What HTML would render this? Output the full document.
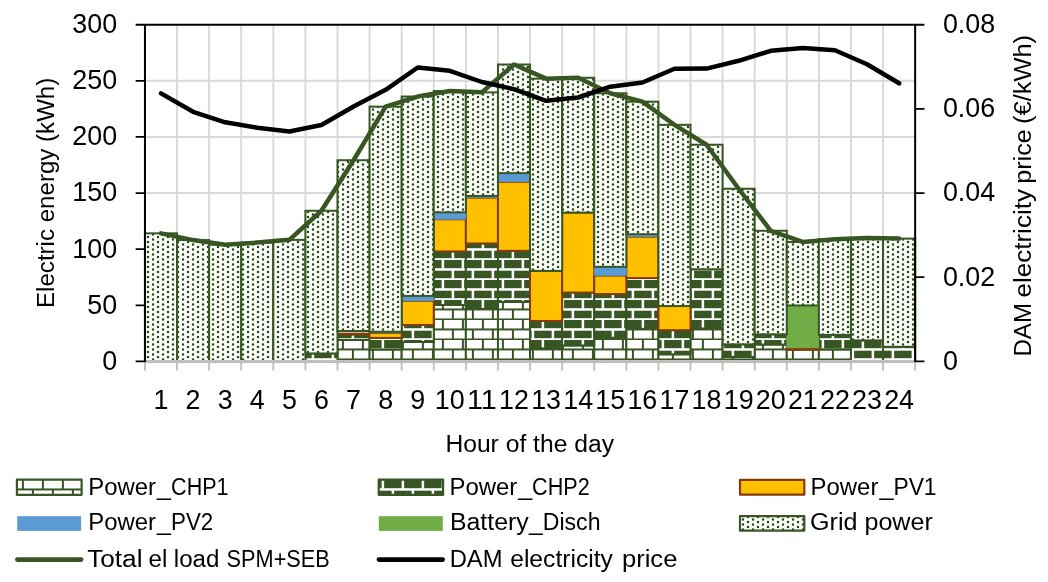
<!DOCTYPE html>
<html lang="en"><head><meta charset="utf-8"><title>Electric energy and DAM electricity price per hour of the day</title>
<style>html,body{margin:0;padding:0;background:#fff;}svg{display:block;}text{font-family:"Liberation Sans",sans-serif;fill:#000;}</style></head><body>
<svg width="1048" height="582" viewBox="0 0 1048 582">
<defs>
<pattern id="dots" patternUnits="userSpaceOnUse" x="0" y="0" width="10" height="5"><rect width="10" height="5" fill="#fff"/><rect x="6.9" y="0.9" width="2.2" height="2.2" fill="#1f4a05"/><rect x="1.9" y="3.4" width="2.2" height="2.2" fill="#1f4a05"/><rect x="1.9" y="-1.6" width="2.2" height="2.2" fill="#1f4a05"/></pattern>
<pattern id="b1" patternUnits="userSpaceOnUse" x="0" y="0" width="20" height="20"><rect width="20" height="20" fill="#fff"/><rect x="0" y="8.45" width="20" height="2.0" fill="#375623"/><rect x="0" y="18.45" width="20" height="2.0" fill="#375623"/><rect x="1.90" y="-1" width="2.0" height="10.3" fill="#375623"/><rect x="1.90" y="19.3" width="2.0" height="1" fill="#375623"/><rect x="11.90" y="9.3" width="2.0" height="10" fill="#375623"/></pattern>
<pattern id="b2" patternUnits="userSpaceOnUse" x="0" y="0" width="20" height="20"><rect width="20" height="20" fill="#375623"/><rect x="0" y="8.20" width="20" height="2.5" fill="#fff"/><rect x="0" y="18.20" width="20" height="2.5" fill="#fff"/><rect x="1.65" y="-1" width="2.5" height="10.3" fill="#fff"/><rect x="1.65" y="19.3" width="2.5" height="1" fill="#fff"/><rect x="11.65" y="9.3" width="2.5" height="10" fill="#fff"/></pattern>
</defs>
<rect width="1048" height="582" fill="#fff"/>
<path d="M177.04 24.70V361.40M209.13 24.70V361.40M241.22 24.70V361.40M273.32 24.70V361.40M305.41 24.70V361.40M337.50 24.70V361.40M369.59 24.70V361.40M401.68 24.70V361.40M433.78 24.70V361.40M465.87 24.70V361.40M497.96 24.70V361.40M530.05 24.70V361.40M562.14 24.70V361.40M594.23 24.70V361.40M626.33 24.70V361.40M658.42 24.70V361.40M690.51 24.70V361.40M722.60 24.70V361.40M754.69 24.70V361.40M786.78 24.70V361.40M818.88 24.70V361.40M850.97 24.70V361.40M883.06 24.70V361.40M144.95 305.28H915.15M144.95 249.17H915.15M144.95 193.05H915.15M144.95 136.93H915.15M144.95 80.82H915.15" stroke="#d9d9d9" stroke-width="1.9" fill="none"/>
<g fill="url(#b1)" stroke="#375623" stroke-width="2.0"><rect x="337.50" y="339.94" width="32.09" height="21.46"/><rect x="369.59" y="349.38" width="32.09" height="12.02"/><rect x="401.68" y="341.97" width="32.09" height="19.43"/><rect x="433.78" y="305.01" width="32.09" height="56.39"/><rect x="465.87" y="308.94" width="32.09" height="52.46"/><rect x="497.96" y="301.87" width="32.09" height="59.53"/><rect x="530.05" y="348.37" width="32.09" height="13.03"/><rect x="562.14" y="345.45" width="32.09" height="15.95"/><rect x="594.23" y="337.70" width="32.09" height="23.70"/><rect x="626.33" y="328.82" width="32.09" height="32.58"/><rect x="658.42" y="354.32" width="32.09" height="7.08"/><rect x="690.51" y="328.49" width="32.09" height="32.91"/><rect x="722.60" y="356.91" width="32.09" height="4.49"/><rect x="754.69" y="344.55" width="32.09" height="16.85"/><rect x="786.78" y="349.61" width="32.09" height="11.79"/><rect x="818.88" y="349.27" width="32.09" height="12.13"/></g><g fill="url(#b2)" stroke="#375623" stroke-width="2.0"><rect x="305.41" y="353.42" width="32.09" height="7.98"/><rect x="337.50" y="334.44" width="32.09" height="5.50"/><rect x="369.59" y="337.92" width="32.09" height="11.46"/><rect x="401.68" y="325.01" width="32.09" height="16.96"/><rect x="433.78" y="251.43" width="32.09" height="53.58"/><rect x="465.87" y="243.45" width="32.09" height="65.49"/><rect x="497.96" y="250.87" width="32.09" height="51.00"/><rect x="530.05" y="320.96" width="32.09" height="27.41"/><rect x="562.14" y="292.54" width="32.09" height="52.91"/><rect x="594.23" y="294.00" width="32.09" height="43.70"/><rect x="626.33" y="278.05" width="32.09" height="50.77"/><rect x="658.42" y="330.17" width="32.09" height="24.15"/><rect x="690.51" y="269.29" width="32.09" height="59.20"/><rect x="722.60" y="344.33" width="32.09" height="12.58"/><rect x="754.69" y="334.33" width="32.09" height="10.22"/><rect x="818.88" y="334.89" width="32.09" height="14.38"/><rect x="850.97" y="340.39" width="32.09" height="21.01"/><rect x="883.06" y="346.80" width="32.09" height="14.60"/></g><g fill="#ffc000" stroke="#843c0c" stroke-width="2.0"><rect x="337.50" y="333.65" width="32.09" height="0.79"/><rect x="369.59" y="332.87" width="32.09" height="5.05"/><rect x="401.68" y="300.85" width="32.09" height="24.15"/><rect x="433.78" y="219.30" width="32.09" height="32.13"/><rect x="465.87" y="197.62" width="32.09" height="45.83"/><rect x="497.96" y="181.78" width="32.09" height="69.08"/><rect x="530.05" y="270.86" width="32.09" height="50.10"/><rect x="562.14" y="212.56" width="32.09" height="79.98"/><rect x="594.23" y="275.58" width="32.09" height="18.42"/><rect x="626.33" y="236.71" width="32.09" height="41.34"/><rect x="658.42" y="306.02" width="32.09" height="24.15"/><rect x="786.78" y="347.92" width="32.09" height="1.68"/></g><g fill="#5b9bd5" stroke="#5b9bd5" stroke-width="0.5"><rect x="369.59" y="331.74" width="32.09" height="1.12"/><rect x="401.68" y="295.91" width="32.09" height="4.94"/><rect x="433.78" y="212.34" width="32.09" height="6.96"/><rect x="465.87" y="195.94" width="32.09" height="1.68"/><rect x="497.96" y="173.13" width="32.09" height="8.65"/><rect x="594.23" y="266.82" width="32.09" height="8.76"/><rect x="626.33" y="234.24" width="32.09" height="2.47"/></g><g fill="#70ad47" stroke="#70ad47" stroke-width="0.5"><rect x="786.78" y="305.46" width="32.09" height="42.46"/></g><g fill="url(#dots)" stroke="#375623" stroke-width="2.0"><rect x="144.95" y="233.34" width="32.09" height="128.06"/><rect x="177.04" y="240.08" width="32.09" height="121.32"/><rect x="209.13" y="244.69" width="32.09" height="116.71"/><rect x="241.22" y="242.55" width="32.09" height="118.85"/><rect x="273.32" y="239.86" width="32.09" height="121.54"/><rect x="305.41" y="210.77" width="32.09" height="142.66"/><rect x="337.50" y="160.22" width="32.09" height="170.79"/><rect x="369.59" y="106.64" width="32.09" height="225.11"/><rect x="401.68" y="96.53" width="32.09" height="199.39"/><rect x="433.78" y="91.02" width="32.09" height="121.32"/><rect x="465.87" y="92.37" width="32.09" height="103.57"/><rect x="497.96" y="64.51" width="32.09" height="108.62"/><rect x="530.05" y="78.67" width="32.09" height="192.20"/><rect x="562.14" y="77.77" width="32.09" height="134.80"/><rect x="594.23" y="93.27" width="32.09" height="173.55"/><rect x="626.33" y="101.69" width="32.09" height="132.55"/><rect x="658.42" y="124.83" width="32.09" height="181.19"/><rect x="690.51" y="144.72" width="32.09" height="124.57"/><rect x="722.60" y="188.75" width="32.09" height="155.58"/><rect x="754.69" y="230.76" width="32.09" height="103.57"/><rect x="786.78" y="241.99" width="32.09" height="63.47"/><rect x="818.88" y="239.18" width="32.09" height="95.71"/><rect x="850.97" y="237.95" width="32.09" height="102.44"/><rect x="883.06" y="238.62" width="32.09" height="108.17"/></g>
<path d="M144.95 361.30H915.15" stroke="#bfbfbf" stroke-width="2.4" fill="none"/>
<path d="M144.95 361.40V370.40M177.04 361.40V370.40M209.13 361.40V370.40M241.22 361.40V370.40M273.32 361.40V370.40M305.41 361.40V370.40M337.50 361.40V370.40M369.59 361.40V370.40M401.68 361.40V370.40M433.78 361.40V370.40M465.87 361.40V370.40M497.96 361.40V370.40M530.05 361.40V370.40M562.14 361.40V370.40M594.23 361.40V370.40M626.33 361.40V370.40M658.42 361.40V370.40M690.51 361.40V370.40M722.60 361.40V370.40M754.69 361.40V370.40M786.78 361.40V370.40M818.88 361.40V370.40M850.97 361.40V370.40M883.06 361.40V370.40M915.15 361.40V370.40" stroke="#bfbfbf" stroke-width="1.9" fill="none"/>
<path d="M144.95 362.00V24.70M135.65 24.70H924.45M915.15 24.70V362.00" stroke="#000" stroke-width="2" fill="none"/>
<path d="M135.65 361.40H144.95M135.65 305.28H144.95M135.65 249.17H144.95M135.65 193.05H144.95M135.65 136.93H144.95M135.65 80.82H144.95M915.15 361.40H924.45M915.15 277.22H924.45M915.15 193.05H924.45M915.15 108.88H924.45" stroke="#000" stroke-width="1.8" fill="none"/>
<polyline points="161.00,233.34 193.09,240.08 225.18,244.69 257.27,242.55 289.36,239.86 321.45,210.77 353.55,160.22 385.64,106.64 417.73,96.53 449.82,91.02 481.91,92.37 514.00,64.51 546.10,78.67 578.19,77.77 610.28,93.27 642.37,101.69 674.46,124.83 706.55,144.72 738.65,188.75 770.74,230.76 802.83,241.99 834.92,239.18 867.01,237.95 899.10,238.62" fill="none" stroke="#375623" stroke-width="4.5" stroke-linecap="round" stroke-linejoin="round"/>
<polyline points="161.00,93.40 193.09,111.80 225.18,122.30 257.27,127.70 289.36,131.50 321.45,125.00 353.55,106.50 385.64,89.80 417.73,67.50 449.82,70.80 481.91,82.00 514.00,89.20 546.10,100.80 578.19,97.50 610.28,86.70 642.37,82.50 674.46,68.80 706.55,68.60 738.65,60.80 770.74,50.80 802.83,48.00 834.92,50.30 867.01,64.20 899.10,83.30" fill="none" stroke="#000" stroke-width="4.5" stroke-linecap="round" stroke-linejoin="round"/>
<text x="117.20" y="369.80" font-size="27.0" text-anchor="end" textLength="14.95" lengthAdjust="spacingAndGlyphs">0</text>
<text x="117.20" y="313.68" font-size="27.0" text-anchor="end" textLength="29.90" lengthAdjust="spacingAndGlyphs">50</text>
<text x="117.20" y="257.57" font-size="27.0" text-anchor="end" textLength="44.85" lengthAdjust="spacingAndGlyphs">100</text>
<text x="117.20" y="201.45" font-size="27.0" text-anchor="end" textLength="44.85" lengthAdjust="spacingAndGlyphs">150</text>
<text x="117.20" y="145.33" font-size="27.0" text-anchor="end" textLength="44.85" lengthAdjust="spacingAndGlyphs">200</text>
<text x="117.20" y="89.22" font-size="27.0" text-anchor="end" textLength="44.85" lengthAdjust="spacingAndGlyphs">250</text>
<text x="117.20" y="33.10" font-size="27.0" text-anchor="end" textLength="44.85" lengthAdjust="spacingAndGlyphs">300</text>
<text x="942.90" y="369.80" font-size="27.0" textLength="14.95" lengthAdjust="spacingAndGlyphs">0</text>
<text x="942.90" y="285.62" font-size="27.0" textLength="52.30" lengthAdjust="spacingAndGlyphs">0.02</text>
<text x="942.90" y="201.45" font-size="27.0" textLength="52.30" lengthAdjust="spacingAndGlyphs">0.04</text>
<text x="942.90" y="117.28" font-size="27.0" textLength="52.30" lengthAdjust="spacingAndGlyphs">0.06</text>
<text x="942.90" y="33.10" font-size="27.0" textLength="52.30" lengthAdjust="spacingAndGlyphs">0.08</text>
<text x="161.00" y="409.20" font-size="27.0" text-anchor="middle" textLength="14.95" lengthAdjust="spacingAndGlyphs">1</text>
<text x="193.09" y="409.20" font-size="27.0" text-anchor="middle" textLength="14.95" lengthAdjust="spacingAndGlyphs">2</text>
<text x="225.18" y="409.20" font-size="27.0" text-anchor="middle" textLength="14.95" lengthAdjust="spacingAndGlyphs">3</text>
<text x="257.27" y="409.20" font-size="27.0" text-anchor="middle" textLength="14.95" lengthAdjust="spacingAndGlyphs">4</text>
<text x="289.36" y="409.20" font-size="27.0" text-anchor="middle" textLength="14.95" lengthAdjust="spacingAndGlyphs">5</text>
<text x="321.45" y="409.20" font-size="27.0" text-anchor="middle" textLength="14.95" lengthAdjust="spacingAndGlyphs">6</text>
<text x="353.55" y="409.20" font-size="27.0" text-anchor="middle" textLength="14.95" lengthAdjust="spacingAndGlyphs">7</text>
<text x="385.64" y="409.20" font-size="27.0" text-anchor="middle" textLength="14.95" lengthAdjust="spacingAndGlyphs">8</text>
<text x="417.73" y="409.20" font-size="27.0" text-anchor="middle" textLength="14.95" lengthAdjust="spacingAndGlyphs">9</text>
<text x="449.82" y="409.20" font-size="27.0" text-anchor="middle" textLength="29.90" lengthAdjust="spacingAndGlyphs">10</text>
<text x="481.91" y="409.20" font-size="27.0" text-anchor="middle" textLength="29.90" lengthAdjust="spacingAndGlyphs">11</text>
<text x="514.00" y="409.20" font-size="27.0" text-anchor="middle" textLength="29.90" lengthAdjust="spacingAndGlyphs">12</text>
<text x="546.10" y="409.20" font-size="27.0" text-anchor="middle" textLength="29.90" lengthAdjust="spacingAndGlyphs">13</text>
<text x="578.19" y="409.20" font-size="27.0" text-anchor="middle" textLength="29.90" lengthAdjust="spacingAndGlyphs">14</text>
<text x="610.28" y="409.20" font-size="27.0" text-anchor="middle" textLength="29.90" lengthAdjust="spacingAndGlyphs">15</text>
<text x="642.37" y="409.20" font-size="27.0" text-anchor="middle" textLength="29.90" lengthAdjust="spacingAndGlyphs">16</text>
<text x="674.46" y="409.20" font-size="27.0" text-anchor="middle" textLength="29.90" lengthAdjust="spacingAndGlyphs">17</text>
<text x="706.55" y="409.20" font-size="27.0" text-anchor="middle" textLength="29.90" lengthAdjust="spacingAndGlyphs">18</text>
<text x="738.65" y="409.20" font-size="27.0" text-anchor="middle" textLength="29.90" lengthAdjust="spacingAndGlyphs">19</text>
<text x="770.74" y="409.20" font-size="27.0" text-anchor="middle" textLength="29.90" lengthAdjust="spacingAndGlyphs">20</text>
<text x="802.83" y="409.20" font-size="27.0" text-anchor="middle" textLength="29.90" lengthAdjust="spacingAndGlyphs">21</text>
<text x="834.92" y="409.20" font-size="27.0" text-anchor="middle" textLength="29.90" lengthAdjust="spacingAndGlyphs">22</text>
<text x="867.01" y="409.20" font-size="27.0" text-anchor="middle" textLength="29.90" lengthAdjust="spacingAndGlyphs">23</text>
<text x="899.10" y="409.20" font-size="27.0" text-anchor="middle" textLength="29.90" lengthAdjust="spacingAndGlyphs">24</text>
<text x="445.40" y="451.80" font-size="23.3" textLength="168.60" lengthAdjust="spacingAndGlyphs">Hour of the day</text>
<text transform="translate(54.4 306.2) rotate(-90)" x="-1.8" y="0" font-size="23.3" textLength="230.30" lengthAdjust="spacingAndGlyphs">Electric energy (kWh)</text>
<text transform="translate(1031.2 354.8) rotate(-90)" y="0.00" font-size="23.3" xml:space="preserve"><tspan x="-1.70" textLength="53.40" lengthAdjust="spacingAndGlyphs">DAM</tspan> <tspan x="57.20" textLength="108.60" lengthAdjust="spacingAndGlyphs">electricity</tspan> <tspan x="171.10" textLength="54.30" lengthAdjust="spacingAndGlyphs">price</tspan> <tspan x="230.90" textLength="89.00" lengthAdjust="spacingAndGlyphs">(€/kWh)</tspan></text>
<rect x="16.9" y="479.7" width="64.7" height="15.1" fill="url(#b1)" stroke="#375623" stroke-width="2.2" stroke-linejoin="round"/>
<rect x="378.7" y="479.7" width="64.4" height="15.1" fill="url(#b2)" stroke="#375623" stroke-width="2.2" stroke-linejoin="round"/>
<rect x="740" y="479.8" width="64.3" height="14.9" fill="#ffc000" stroke="#843c0c" stroke-width="2.2" stroke-linejoin="round"/>
<rect x="17.2" y="516.2" width="63.9" height="14.7" fill="#5b9bd5"/>
<rect x="378.8" y="516.2" width="64" height="14.7" fill="#70ad47"/>
<rect x="740" y="516.2" width="64.3" height="14.5" fill="url(#dots)" stroke="#375623" stroke-width="2.2" stroke-linejoin="round"/>
<path d="M17.3 559.6H81.2" stroke="#375623" stroke-width="4.6" stroke-linecap="round" fill="none"/>
<path d="M378.9 559.6H442.7" stroke="#000" stroke-width="4.6" stroke-linecap="round" fill="none"/>
<text x="810.10" y="530.40" font-size="23.3" textLength="122.70" lengthAdjust="spacingAndGlyphs">Grid power</text>
<text y="566.50" font-size="23.3" xml:space="preserve"><tspan x="87.20" textLength="55.30" lengthAdjust="spacingAndGlyphs">Total</tspan> <tspan x="148.50" textLength="18.80" lengthAdjust="spacingAndGlyphs">el</tspan> <tspan x="173.80" textLength="45.60" lengthAdjust="spacingAndGlyphs">load</tspan> <tspan x="226.60" textLength="103.20" lengthAdjust="spacingAndGlyphs">SPM+SEB</tspan></text>
<text y="566.50" font-size="23.3" xml:space="preserve"><tspan x="449.70" textLength="52.80" lengthAdjust="spacingAndGlyphs">DAM</tspan> <tspan x="510.20" textLength="102.70" lengthAdjust="spacingAndGlyphs">electricity</tspan> <tspan x="621.90" textLength="55.50" lengthAdjust="spacingAndGlyphs">price</tspan></text>
<text y="494.60" font-size="23.3"><tspan x="88.20" textLength="67.80" lengthAdjust="spacingAndGlyphs">Power</tspan><tspan x="157.00" textLength="13.90" lengthAdjust="spacingAndGlyphs">_</tspan><tspan x="171.10" textLength="57.50" lengthAdjust="spacingAndGlyphs">CHP1</tspan></text>
<text y="494.60" font-size="23.3"><tspan x="449.50" textLength="67.80" lengthAdjust="spacingAndGlyphs">Power</tspan><tspan x="518.30" textLength="13.90" lengthAdjust="spacingAndGlyphs">_</tspan><tspan x="532.10" textLength="57.60" lengthAdjust="spacingAndGlyphs">CHP2</tspan></text>
<text y="494.60" font-size="23.3"><tspan x="810.60" textLength="67.80" lengthAdjust="spacingAndGlyphs">Power</tspan><tspan x="879.40" textLength="13.90" lengthAdjust="spacingAndGlyphs">_</tspan><tspan x="893.40" textLength="43.20" lengthAdjust="spacingAndGlyphs">PV1</tspan></text>
<text y="530.40" font-size="23.3"><tspan x="88.20" textLength="67.80" lengthAdjust="spacingAndGlyphs">Power</tspan><tspan x="157.00" textLength="13.90" lengthAdjust="spacingAndGlyphs">_</tspan><tspan x="171.00" textLength="42.20" lengthAdjust="spacingAndGlyphs">PV2</tspan></text>
<text y="530.40" font-size="23.3"><tspan x="449.90" textLength="78.80" lengthAdjust="spacingAndGlyphs">Battery</tspan><tspan x="528.90" textLength="13.60" lengthAdjust="spacingAndGlyphs">_</tspan><tspan x="542.80" textLength="57.70" lengthAdjust="spacingAndGlyphs">Disch</tspan></text>
</svg></body></html>
